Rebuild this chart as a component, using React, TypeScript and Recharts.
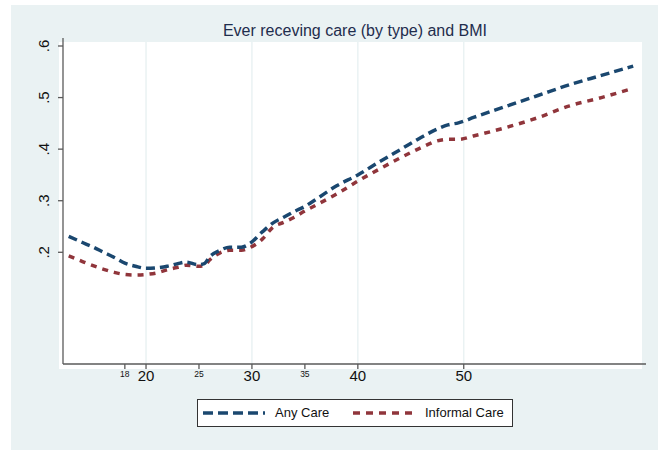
import { LineChart, Line, XAxis, YAxis, ReferenceLine } from "recharts";

const bmi = [12.7, 14, 15, 16, 17, 18, 19, 20, 21, 22, 23, 23.8, 24.9, 25.5, 26, 27, 27.9, 29, 29.8, 31, 32, 33, 34, 35, 36, 38, 40, 42, 44, 46, 47.5, 48.5, 49.5, 51, 54, 57, 60, 63, 66];
const anyCare = [0.231, 0.219, 0.21, 0.2, 0.19, 0.179, 0.173, 0.169, 0.17, 0.173, 0.178, 0.181, 0.176, 0.178, 0.191, 0.204, 0.21, 0.21, 0.217, 0.24, 0.257, 0.268, 0.279, 0.289, 0.302, 0.329, 0.35, 0.375, 0.399, 0.423, 0.439, 0.447, 0.451, 0.462, 0.483, 0.504, 0.525, 0.543, 0.561];
const informalCare = [0.193, 0.182, 0.174, 0.167, 0.161, 0.157, 0.156, 0.157, 0.16, 0.166, 0.171, 0.175, 0.173, 0.174, 0.185, 0.199, 0.204, 0.204, 0.209, 0.226, 0.249, 0.258, 0.268, 0.28, 0.291, 0.313, 0.338, 0.361, 0.383, 0.403, 0.416, 0.419, 0.419, 0.426, 0.442, 0.461, 0.484, 0.5, 0.518];

const xTicks = [18, 20, 25, 30, 35, 40, 50];
const xMajor = [20, 30, 40, 50];
const yTicks = [0.2, 0.3, 0.4, 0.5, 0.6];
const yLabels = [".2", ".3", ".4", ".5", ".6"];

const data = bmi.map((b, i) => ({ bmi: b, any: anyCare[i], informal: informalCare[i] }));

const FONT = "'Liberation Sans', Arial, sans-serif";
const BLUE = "#1a476f";
const RED = "#90353b";
const AXIS = "#5a5a5a";
const REGION = "#eaf2f3";

function XTick({ x, y, payload }: any) {
  const major = xMajor.includes(payload.value);
  return (
    <text
      x={x}
      y={major ? y + 10 : y + 5.5}
      textAnchor="middle"
      fontSize={major ? 15 : 8.5}
      fill="#111"
      fontFamily={FONT}
    >
      {payload.value}
    </text>
  );
}

function YTick({ y, payload }: any) {
  const idx = yTicks.indexOf(payload.value);
  const bx = 49;
  return (
    <text
      x={bx}
      y={y}
      transform={`rotate(-90 ${bx} ${y})`}
      textAnchor="middle"
      fontSize={15}
      fill="#111"
      fontFamily={FONT}
    >
      {yLabels[idx]}
    </text>
  );
}

export default function App() {
  return (
    <div style={{ position: "absolute", left: 0, top: 0, width: 665, height: 450, background: "#fff", fontFamily: FONT }}>
      <div style={{ position: "absolute", left: 11, top: 5, width: 647, height: 445, background: REGION }} />
      <div style={{ position: "absolute", left: 59, top: 42, width: 583, height: 327, background: "#fff" }} />
      <div
        style={{
          position: "absolute",
          left: 0,
          top: 23,
          width: 665,
          textAlign: "center",
          fontSize: 16,
          color: "#1f2d4d",
          lineHeight: "16px",
          paddingLeft: 45,
          boxSizing: "border-box",
        }}
      >
        Ever receving care (by type) and BMI
      </div>
      <div style={{ position: "absolute", left: 0, top: 0 }}>
        <LineChart width={665} height={450} data={data} margin={{ top: 38, right: 19, bottom: 0, left: 0 }}>
          {xMajor.map((v) => (
            <ReferenceLine key={v} x={v} stroke={REGION} strokeWidth={1.5} />
          ))}
          <XAxis
            dataKey="bmi"
            type="number"
            domain={[12.16, 67.21]}
            ticks={xTicks}
            allowDataOverflow
            height={86}
            tickSize={5}
            tick={<XTick />}
            axisLine={{ stroke: AXIS, strokeWidth: 1.3 }}
            tickLine={{ stroke: AXIS, strokeWidth: 1.3 }}
          />
          <YAxis
            type="number"
            domain={[-0.0166, 0.6155]}
            ticks={yTicks}
            allowDataOverflow
            width={63}
            tickSize={5}
            tick={<YTick />}
            axisLine={{ stroke: AXIS, strokeWidth: 1.3 }}
            tickLine={{ stroke: AXIS, strokeWidth: 1.3 }}
          />
          <Line
            type="monotone"
            dataKey="informal"
            stroke={RED}
            strokeWidth={3.5}
            strokeDasharray="6 6"
            dot={false}
            isAnimationActive={false}
          />
          <Line
            type="monotone"
            dataKey="any"
            stroke={BLUE}
            strokeWidth={3.5}
            strokeDasharray="9 5"
            dot={false}
            isAnimationActive={false}
          />
        </LineChart>
      </div>
      <div
        style={{
          position: "absolute",
          left: 197,
          top: 399,
          width: 316,
          height: 28,
          boxSizing: "border-box",
          border: "1px solid #333",
          background: "#fff",
        }}
      >
        <svg width={62} height={6} style={{ position: "absolute", left: 5, top: 10 }}>
          <line x1={0} y1={3} x2={62} y2={3} stroke={BLUE} strokeWidth={3.5} strokeDasharray="10 5" />
        </svg>
        <span style={{ position: "absolute", left: 77, top: 5, fontSize: 13, color: "#111", lineHeight: "15px" }}>Any Care</span>
        <svg width={60} height={6} style={{ position: "absolute", left: 155, top: 10 }}>
          <line x1={0} y1={3} x2={60} y2={3} stroke={RED} strokeWidth={3.5} strokeDasharray="7 6" />
        </svg>
        <span style={{ position: "absolute", left: 227, top: 5, fontSize: 13, color: "#111", lineHeight: "15px" }}>Informal Care</span>
      </div>
    </div>
  );
}
